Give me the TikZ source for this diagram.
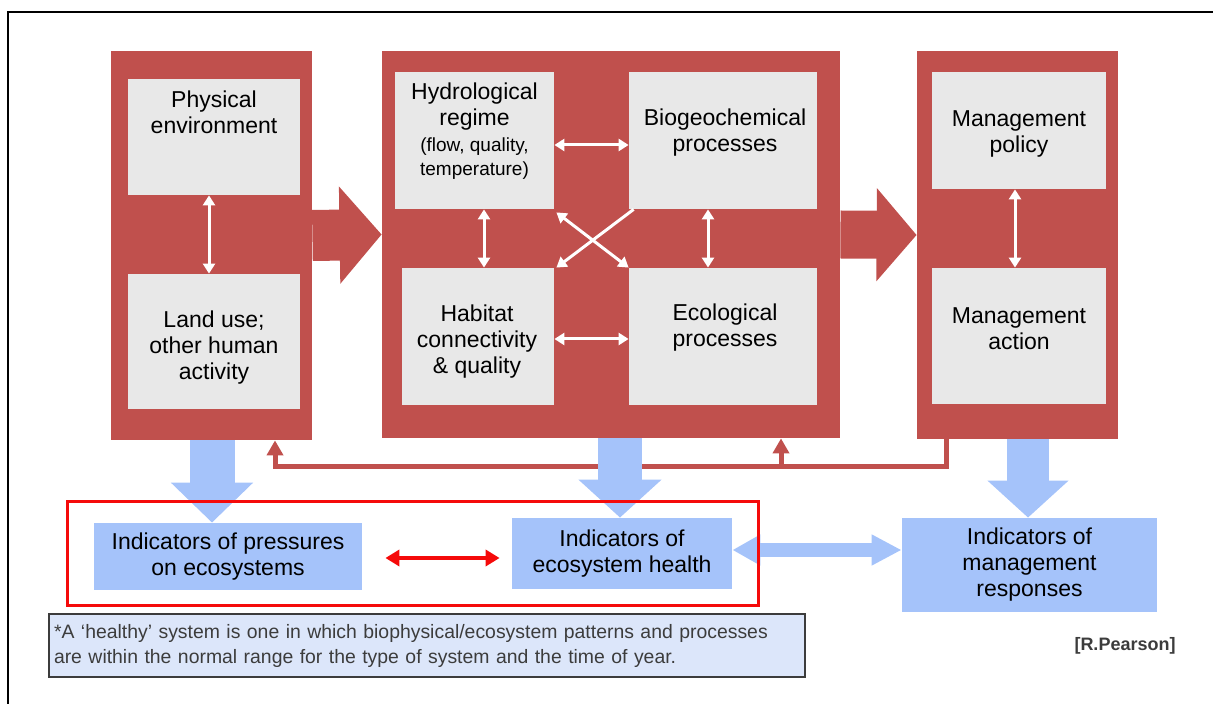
\documentclass[tikz,border=0pt]{standalone}
\usepackage{fontspec}
\setmainfont{Liberation Sans}
\usetikzlibrary{arrows.meta,positioning}

\definecolor{panelred}{RGB}{192,80,77}
\definecolor{itemgray}{RGB}{232,232,232}
\definecolor{indblue}{RGB}{165,195,250}
\definecolor{noteblue}{RGB}{220,230,250}
\definecolor{notegray}{RGB}{60,60,60}
\definecolor{hired}{RGB}{245,10,10}

\tikzset{
  panel/.style={fill=panelred, inner sep=0pt},
  item/.style={fill=itemgray, inner sep=0pt},
  txt/.style={align=center, inner sep=0pt, font=\fontsize{11.5}{13}\selectfont},
  smalltxt/.style={align=center, inner sep=0pt, font=\fontsize{9.5}{12}\selectfont},
  indbox/.style={fill=indblue, inner sep=0pt, align=center, font=\fontsize{11.5}{13}\selectfont},
  link/.style={white, line width=1.5pt, {Triangle[length=5pt,width=6pt]}-{Triangle[length=5pt,width=6pt]}},
  oneway/.style={white, line width=1.5pt, -{Triangle[length=5pt,width=6pt]}},
  feedback/.style={panelred, line width=2.5pt},
  fbtip/.style={-{Triangle[length=7.5pt,width=8pt]}}
}

\begin{document}
\begin{tikzpicture}[x=0.5pt,y=-0.5pt]
\useasboundingbox (0,0) rectangle (1213,704);

% outer frame
\draw[line width=0.8pt] (8,704) -- (8,12) -- (1213,12);

% red panels
\node[panel, minimum width=100.5pt, minimum height=194.5pt] (leftpanel) at (211.5,245.5) {};
\node[panel, minimum width=229pt, minimum height=193.5pt] (midpanel) at (611,244.5) {};
\node[panel, minimum width=100.5pt, minimum height=194pt] (rightpanel) at (1017.5,245) {};

% big arrows between panels
\draw[panelred, line width=25.5pt, -{Triangle[length=21pt,width=47.5pt]}]
  ([yshift=5pt]leftpanel.east) -- ([yshift=5pt]midpanel.west);
\draw[panelred, line width=24pt, -{Triangle[length=20pt,width=45.5pt]}]
  ([yshift=5pt]midpanel.east) -- ([yshift=5pt]rightpanel.west);

% left panel
\node[item, minimum width=86pt, minimum height=58pt] (phys) at (214,137) {};
\node[item, minimum width=86pt, minimum height=67.5pt] (land) at (214,341.5) {};
\node[txt] (phys-t) at (214,112) {Physical\\environment};
\node[txt] (land-t) at (214,348) {Land use;\\other human\\activity};
\draw[link] ([xshift=-2.5pt]phys.south) -- ([xshift=-2.5pt]land.north);

% middle panel
\node[item, minimum width=79.5pt, minimum height=68.5pt] (hydro) at (474.5,140.5) {};
\node[item, minimum width=94pt, minimum height=68.5pt] (biogeo) at (723,140.5) {};
\node[item, minimum width=76pt, minimum height=68.5pt] (habitat) at (478,336.5) {};
\node[item, minimum width=94pt, minimum height=68.5pt] (eco) at (723,336.5) {};
\node[txt] (hydro-t) at (474.5,106.5) {Hydrological\\regime};
\node[smalltxt] (hydro-s) at (474.5,159) {(flow, quality,\\temperature)};
\node[txt] (biogeo-t) at (725,133) {Biogeochemical\\processes};
\node[txt] (habitat-t) at (477,341.5) {Habitat\\connectivity\\\& quality};
\node[txt] (eco-t) at (725,328) {Ecological\\processes};
\draw[link] ([yshift=-2.25pt]hydro.east) -- ([yshift=-2.25pt]biogeo.west);
\draw[link] ([yshift=-1.25pt]habitat.east) -- ([yshift=-1.25pt]eco.west);
\draw[link] ([xshift=3pt]hydro.south -| habitat.north) -- ([xshift=3pt]habitat.north);
\draw[link] ([xshift=-7.5pt]biogeo.south) -- ([xshift=-7.5pt]eco.north);
\draw[link] ([shift={(1pt,-1.5pt)}]hydro.south east) -- (eco.north west);
\draw[oneway] ([xshift=2.5pt]biogeo.south west) -- ([xshift=1pt]habitat.north east);

% right panel
\node[item, minimum width=87pt, minimum height=58.5pt] (policy) at (1019,130.5) {};
\node[item, minimum width=87pt, minimum height=68pt] (action) at (1019,336) {};
\node[txt] (policy-t) at (1019,133.5) {Management\\policy};
\node[txt] (action-t) at (1019,328.5) {Management\\action};
\draw[link] ([xshift=-2pt]policy.south) -- ([xshift=-2pt]action.north);

% feedback line
\coordinate (fbturn) at (275,467);
\coordinate (fbmid) at (781,467);
\draw[feedback, fbtip, line join=miter]
  ([xshift=15pt]rightpanel.south west) |- (fbturn) -- (fbturn |- leftpanel.south);
\draw[feedback, fbtip] (fbmid) -- (fbmid |- midpanel.south);

% indicators
\node[indbox, minimum width=134pt, minimum height=33.5pt] (pressures) at (228,556.5) {Indicators of pressures\\on ecosystems};
\node[indbox, minimum width=110pt, minimum height=35.5pt] (health) at (622,553.5) {Indicators of\\ecosystem health};
\node[indbox, minimum width=127.5pt, minimum height=47pt] (responses) at (1029.5,565) {Indicators of\\management\\responses};

% blue arrows down to the indicators
\draw[indblue, line width=22.5pt, -{Triangle[length=20pt,width=40pt]}]
  ([xshift=0.25pt]leftpanel.south) -- ([xshift=0.25pt]leftpanel.south |- pressures.north);
\draw[indblue, line width=22pt, -{Triangle[length=19pt,width=40.5pt]}]
  ([xshift=-1pt]health.north |- midpanel.south) -- ([xshift=-1pt]health.north);
\draw[indblue, line width=21pt, -{Triangle[length=18.5pt,width=39.5pt]}]
  ([xshift=-0.75pt]responses.north |- rightpanel.south) -- ([xshift=-0.75pt]responses.north);
\draw[indblue, line width=7pt, {Triangle[length=14pt,width=14.5pt]}-{Triangle[length=15pt,width=14.5pt]}]
  ([yshift=1.75pt]health.east) -- ([yshift=1.75pt]health.east -| responses.west);

% highlighted pair
\node[draw=hired, line width=1.5pt, minimum width=345.5pt, minimum height=51.5pt] (hl) at (412.5,553.5) {};
\coordinate (pa) at ([shift={(11.5pt,-0.75pt)}]pressures.east);
\coordinate (pb) at ([xshift=-6pt]pa -| health.west);
\draw[hired, line width=2pt, {Triangle[length=7pt,width=8pt]}-{Triangle[length=7pt,width=8pt]}]
  (pa) -- (pb);

% note
\node[fill=noteblue, draw=notegray, line width=0.6pt, minimum width=378pt, minimum height=31.5pt,
  text width=373pt, inner xsep=2.5pt, align=left, text=notegray,
  font=\fontsize{9.7}{12.5}\selectfont] (note) at (427,645.5)
  {*A `healthy' system is one in which biophysical/ecosystem patterns and processes\\
   are within the normal range for the type of system and the time of year.};

\node[font=\bfseries\fontsize{9}{11}\selectfont, text=notegray, inner sep=0pt] (credit) at (1125,646) {[R.Pearson]};

\end{tikzpicture}
\end{document}
